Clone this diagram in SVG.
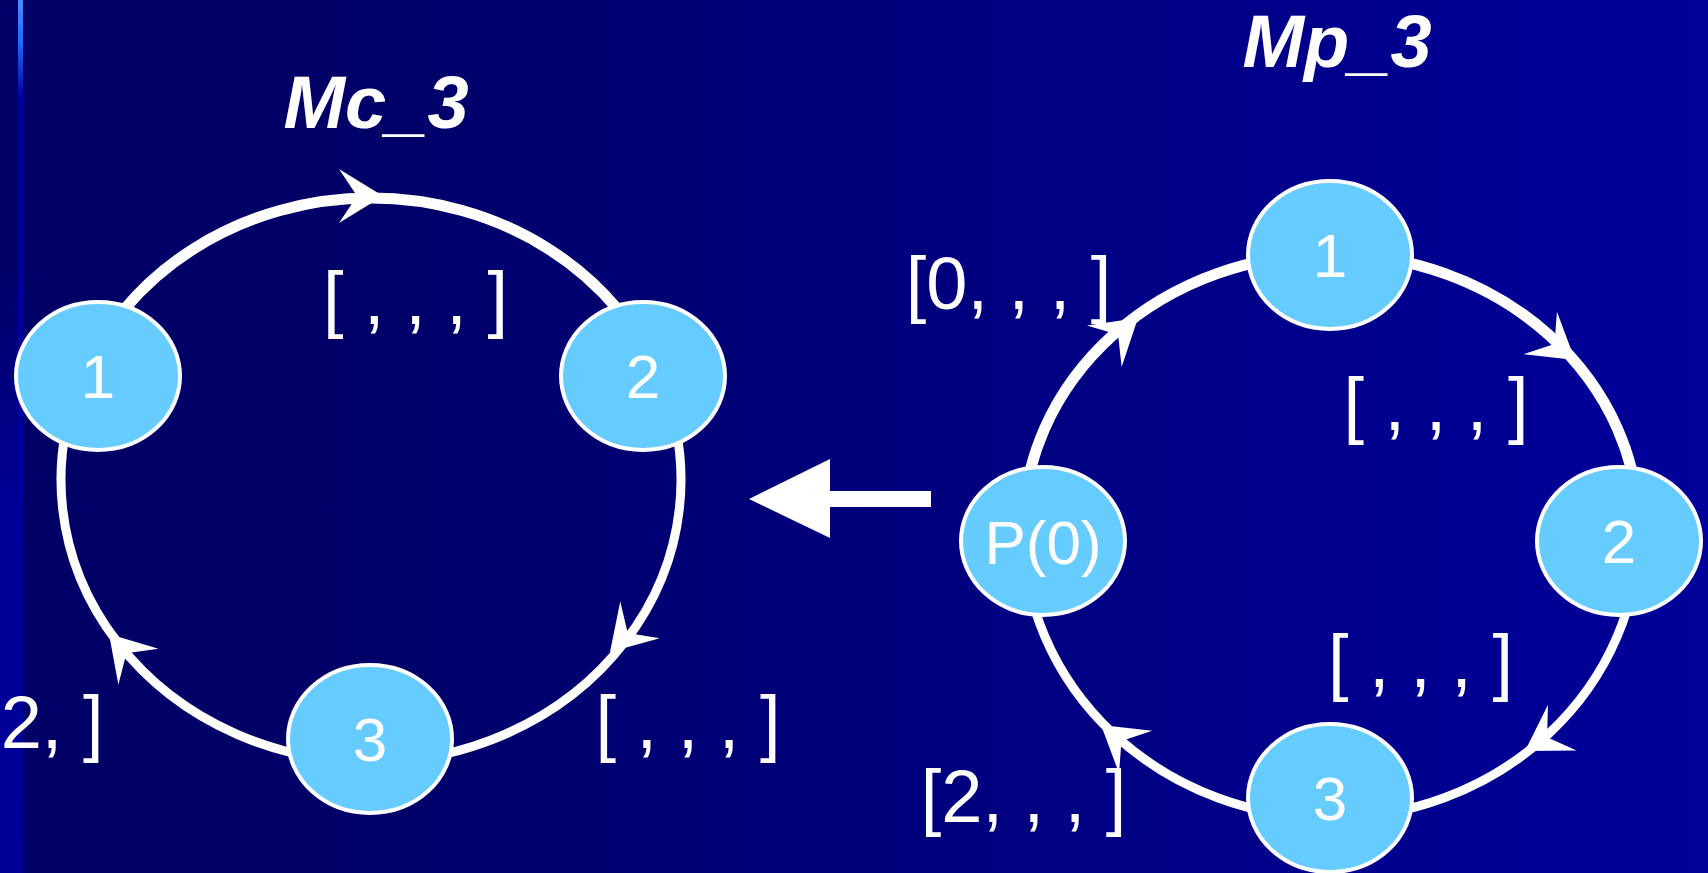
<svg xmlns="http://www.w3.org/2000/svg" xmlns:xlink="http://www.w3.org/1999/xlink" width="1708" height="873" viewBox="0 0 1708 873">
<defs>
  <linearGradient id="bg" x1="0" y1="0" x2="1" y2="0">
    <stop offset="0" stop-color="#000066"/>
    <stop offset="0.2" stop-color="#000068"/>
    <stop offset="1" stop-color="#00009A"/>
  </linearGradient>
  <linearGradient id="strip" x1="0" y1="0" x2="0" y2="1">
    <stop offset="0" stop-color="#000066"/>
    <stop offset="0.3" stop-color="#000066"/>
    <stop offset="0.6" stop-color="#000099"/>
    <stop offset="1" stop-color="#000099"/>
  </linearGradient>
  <linearGradient id="vline" x1="0" y1="0" x2="0" y2="873" gradientUnits="userSpaceOnUse">
    <stop offset="0" stop-color="#4A8CFF"/>
    <stop offset="0.05" stop-color="#2266FF"/>
    <stop offset="0.11" stop-color="#0000A0"/>
    <stop offset="1" stop-color="#000099"/>
  </linearGradient>
  <path id="ah" d="M0,0 L-44,-27 L-26,0 L-44,27 Z"/>
  <style>
    .node ellipse { fill: #66CCFF; stroke: #FFFFFF; stroke-width: 4; }
    .node text { font-family: "Liberation Sans", Arial, sans-serif; font-size: 62px; fill: #FFFFFF; text-anchor: middle; }
    .edge { fill: none; stroke: #FFFFFF; stroke-width: 9; }
    .edge.thick { stroke-width: 11; }
    .head { fill: #FFFFFF; }
    .lbl { font-family: "Liberation Sans", Arial, sans-serif; font-size: 74px; fill: #FFFFFF; text-anchor: middle; }
    .title { font-family: "Liberation Sans", Arial, sans-serif; font-size: 74px; font-weight: bold; font-style: italic; fill: #FFFFFF; text-anchor: middle; }
  </style>
</defs>

<rect x="0" y="0" width="1708" height="873" fill="url(#bg)"/>
<rect x="0" y="0" width="18" height="873" fill="url(#strip)"/>
<rect x="18" y="0" width="5" height="873" fill="url(#vline)"/>

<g id="titles">
  <text class="title" x="376" y="128">Mc_3</text>
  <text class="title" x="1337" y="67">Mp_3</text>
</g>

<g id="connectors">
  <!-- left ring Mc_3 -->
  <path class="edge thick" d="M79.7,383.6 A310,282 0 0 1 662.3,383.6"/>
  <path class="edge" d="M662.3,383.6 A310,282 0 0 1 371,762"/>
  <path class="edge" d="M371,762 A310,282 0 0 1 79.7,383.6"/>
  <use href="#ah" class="head" transform="translate(383,196) rotate(0)"/>
  <use href="#ah" class="head" transform="translate(610,652) rotate(133)"/>
  <use href="#ah" class="head" transform="translate(109,634) rotate(-132)"/>
  <!-- right ring Mp_3 -->
  <path class="edge thick" d="M1023,530 A308,276 0 0 1 1331,254"/>
  <path class="edge thick" d="M1331,254 A308,276 0 0 1 1639,530"/>
  <path class="edge" d="M1639,530 A308,288 0 0 1 1331,818"/>
  <path class="edge" d="M1331,818 A308,288 0 0 1 1023,530"/>
  <use href="#ah" class="head" transform="translate(1138,318) rotate(-40)"/>
  <use href="#ah" class="head" transform="translate(1575,360) rotate(38)"/>
  <use href="#ah" class="head" transform="translate(1525,751) rotate(148)"/>
  <use href="#ah" class="head" transform="translate(1101,725) rotate(-142)"/>
  <!-- big arrow between diagrams -->
  <polygon class="head" points="749,499 830,459 830,491 931,491 931,507 830,507 830,538"/>
</g>

<g id="mc-node-1" class="node"><ellipse cx="98" cy="376" rx="82" ry="74"/><text x="98" y="398">1</text></g>
<g id="mc-node-2" class="node"><ellipse cx="643" cy="376" rx="82" ry="74"/><text x="643" y="398">2</text></g>
<g id="mc-node-3" class="node"><ellipse cx="370" cy="739" rx="82" ry="74"/><text x="370" y="761">3</text></g>

<g id="mp-node-p0" class="node"><ellipse cx="1043" cy="541" rx="82" ry="74"/><text x="1043" y="564">P(0)</text></g>
<g id="mp-node-1" class="node"><ellipse cx="1330" cy="255" rx="82" ry="74"/><text x="1330" y="277">1</text></g>
<g id="mp-node-2" class="node"><ellipse cx="1619" cy="541" rx="82" ry="74"/><text x="1619" y="563">2</text></g>
<g id="mp-node-3" class="node"><ellipse cx="1330" cy="798" rx="82" ry="74"/><text x="1330" y="820">3</text></g>

<g id="labels">
  <text class="lbl" x="415.5" y="324">[ , , , ]</text>
  <text class="lbl" x="688" y="748">[ , , , ]</text>
  <text class="lbl" x="103.5" y="748" style="text-anchor:end">2, ]</text>
  <text class="lbl" x="1008.5" y="309">[0, , , ]</text>
  <text class="lbl" x="1436" y="430">[ , , , ]</text>
  <text class="lbl" x="1420.5" y="687">[ , , , ]</text>
  <text class="lbl" x="1023.5" y="822">[2, , , ]</text>
</g>
</svg>
